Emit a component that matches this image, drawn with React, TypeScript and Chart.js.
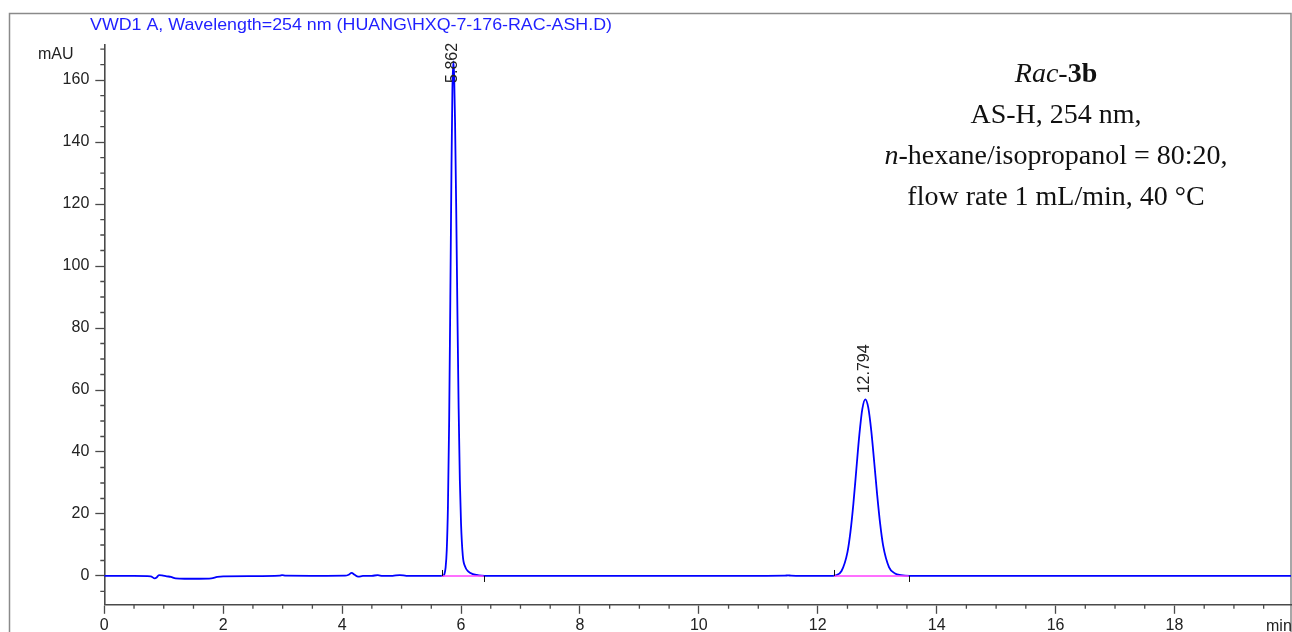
import React, { useEffect, useRef } from "react";
import { Chart, registerables } from "chart.js";

Chart.register(...registerables);

// ---- Data ----
const retentionTimes: number[] = [
  0, 0.5, 0.78, 0.85, 0.88, 0.92, 0.97, 1.05, 1.12, 1.2, 1.35, 1.6, 1.8, 1.9, 2.0,
  2.5, 2.95, 2.99, 3.05, 3.6, 4.05, 4.11, 4.16, 4.21, 4.27, 4.35, 4.5, 4.6, 4.68,
  4.85, 4.97, 5.08, 5.3, 5.6, 5.7,
  5.72, 5.74, 5.76, 5.78, 5.8, 5.82, 5.84, 5.855, 5.87, 5.885, 5.9, 5.92, 5.94,
  5.96, 5.98, 6.0, 6.03, 6.07, 6.12, 6.2, 6.3, 6.4,
  7.0, 8.5, 10.0, 11.0, 11.45, 11.5, 11.55, 12.0, 12.2,
  12.3, 12.4, 12.5, 12.55, 12.6, 12.65, 12.7, 12.75, 12.8, 12.85, 12.9, 12.95,
  13.0, 13.05, 13.1, 13.2, 13.3, 13.4, 13.55, 14, 16, 18, 19.96,
];
const absorbance: number[] = [
  0, 0, -0.1, -0.8, -0.5, 0.3, 0.2, -0.1, -0.3, -0.8, -0.9, -0.9, -0.8, -0.3, -0.1,
  -0.05, 0.1, 0.25, 0.1, 0.05, 0.1, 0.4, 1.0, 0.4, -0.2, 0, 0.05, 0.25, 0,
  0.05, 0.3, 0.05, 0, 0, 0.1,
  0.6, 2.6, 8.4, 22.5, 49.5, 89.5, 133, 157, 166, 161, 146, 117, 84,
  54, 31, 17, 6.5, 3, 1.5, 0.6, 0.2, 0.05,
  0, 0, 0.05, 0.05, 0.1, 0.2, 0.1, 0, 0,
  0.2, 1.6, 7.7, 14.2, 23.4, 34.6, 45.6, 53.9, 57, 54.3, 46.9, 36.7,
  26.1, 16.8, 9.8, 2.8, 0.8, 0.3, 0.05, 0, 0, 0, 0,
];

const peakTimes: number[] = [5.862, 12.794];
const peakLabels: string[] = ["5.862", "12.794"];
const baselineStarts: number[] = [5.675, 12.27];
const baselineEnds: number[] = [6.38, 13.53];

const xTicks: number[] = [0, 2, 4, 6, 8, 10, 12, 14, 16, 18];
const yTicks: number[] = [0, 20, 40, 60, 80, 100, 120, 140, 160];
const xMinorStep = 0.5;
const yMinorStep = 5;
const X_MIN = 0;
const X_MAX = 19.96;
const Y_MIN = -9.3;
const Y_MAX = 171.5;

const titleText = "VWD1 A, Wavelength=254 nm (HUANG\\HXQ-7-176-RAC-ASH.D)";
const yUnit = "mAU";
const xUnit = "min";

type Part = { t: string; s?: string };
const noteLines: Part[][] = [
  [{ t: "Rac", s: "italic" }, { t: "-" }, { t: "3b", s: "bold" }],
  [{ t: "AS-H, 254 nm," }],
  [{ t: "n", s: "italic" }, { t: "-hexane/isopropanol = 80:20," }],
  [{ t: "flow rate 1 mL/min, 40 \u00B0C" }],
];

const SANS = '"Liberation Sans", Arial, sans-serif';
const SERIF = '"Liberation Serif", "Times New Roman", serif';
const AXIS_COLOR = "#4a4a4a";
const TRACE = "#0000ff";
const PINK = "#ff40ff";

const hplcPlugin = {
  id: "hplc",
  beforeDraw(chart: any) {
    const ctx = chart.ctx;
    ctx.save();
    ctx.fillStyle = "#ffffff";
    ctx.fillRect(0, 0, chart.width, chart.height);
    ctx.strokeStyle = "#8a8a8a";
    ctx.lineWidth = 1.5;
    ctx.strokeRect(9.5, 13.5, chart.width - 1 - 9.5, chart.height + 20);
    ctx.restore();
  },
  afterDraw(chart: any) {
    const { ctx, chartArea } = chart;
    const x = chart.scales.x;
    const y = chart.scales.y;
    ctx.save();
    // minor ticks
    ctx.strokeStyle = AXIS_COLOR;
    ctx.lineWidth = 1.3;
    ctx.beginPath();
    for (let v = Math.ceil(X_MIN / xMinorStep) * xMinorStep; v <= X_MAX + 1e-9; v += xMinorStep) {
      if (Math.abs(v / 2 - Math.round(v / 2)) < 1e-6) continue;
      const px = x.getPixelForValue(v);
      ctx.moveTo(px, chartArea.bottom);
      ctx.lineTo(px, chartArea.bottom + 4);
    }
    for (let v = Math.ceil(Y_MIN / yMinorStep) * yMinorStep; v <= Y_MAX + 1e-9; v += yMinorStep) {
      if (Math.abs(v / 20 - Math.round(v / 20)) < 1e-6 && v >= 0 && v <= 160) continue;
      const py = y.getPixelForValue(v);
      ctx.moveTo(chartArea.left, py);
      ctx.lineTo(chartArea.left - 4, py);
    }
    ctx.stroke();

    // integration marks
    ctx.strokeStyle = "#111111";
    ctx.lineWidth = 1;
    ctx.beginPath();
    const y0 = y.getPixelForValue(0);
    baselineStarts.forEach((t) => {
      const px = Math.round(x.getPixelForValue(t)) + 0.5;
      ctx.moveTo(px, y0);
      ctx.lineTo(px, y0 - 6);
    });
    baselineEnds.forEach((t) => {
      const px = Math.round(x.getPixelForValue(t)) + 0.5;
      ctx.moveTo(px, y0);
      ctx.lineTo(px, y0 + 6);
    });
    ctx.stroke();

    // peak labels
    ctx.font = `16px ${SANS}`;
    ctx.fillStyle = "#222222";
    peakTimes.forEach((t, i) => {
      let apex = 0;
      retentionTimes.forEach((rt, j) => {
        if (Math.abs(rt - t) < 0.15 && absorbance[j] > apex) apex = absorbance[j];
      });
      const apexY = y.getPixelForValue(apex);
      const w = ctx.measureText(peakLabels[i]).width;
      let bottom = apexY - 6;
      if (bottom - w < chartArea.top - 1.5) bottom = chartArea.top - 1.5 + w;
      ctx.save();
      ctx.translate(x.getPixelForValue(t), bottom);
      ctx.rotate(-Math.PI / 2);
      ctx.textAlign = "left";
      ctx.textBaseline = "middle";
      ctx.fillText(peakLabels[i], 0, 0);
      ctx.restore();
    });

    // title
    ctx.save();
    ctx.font = `16px ${SANS}`;
    ctx.fillStyle = "#1f1fff";
    ctx.textBaseline = "alphabetic";
    const tw = ctx.measureText(titleText).width;
    ctx.translate(90, 29.5);
    ctx.scale(522 / tw, 1);
    ctx.fillText(titleText, 0, 0);
    ctx.restore();

    // units
    ctx.font = `16px ${SANS}`;
    ctx.fillStyle = "#222222";
    ctx.textBaseline = "alphabetic";
    ctx.textAlign = "left";
    ctx.fillText(yUnit, 38, 58.5);
    ctx.fillText(xUnit, chartArea.right - 25, 630.5);

    // annotation
    const fontFor = (s?: string) =>
      s === "italic" ? `italic 28px ${SERIF}` : s === "bold" ? `bold 28px ${SERIF}` : `28px ${SERIF}`;
    const baselines = [82, 123, 164, 205];
    ctx.fillStyle = "#111111";
    noteLines.forEach((parts, li) => {
      let total = 0;
      parts.forEach((p) => {
        ctx.font = fontFor(p.s);
        total += ctx.measureText(p.t).width;
      });
      let cx = 1056 - total / 2;
      parts.forEach((p) => {
        ctx.font = fontFor(p.s);
        ctx.fillText(p.t, cx, baselines[li]);
        cx += ctx.measureText(p.t).width;
      });
    });
    ctx.restore();
  },
};

export default function App() {
  const ref = useRef<HTMLCanvasElement | null>(null);
  useEffect(() => {
    if (!ref.current) return;
    const traceData = retentionTimes.map((t, i) => ({ x: t, y: absorbance[i] }));
    const pinkSets = baselineStarts.map((s, i) => ({
      label: `baseline ${i + 1}`,
      data: [
        { x: s, y: 0 },
        { x: baselineEnds[i], y: 0 },
      ],
      borderColor: PINK,
      borderWidth: 1.6,
      pointRadius: 0,
      order: 0,
    }));
    const chart = new Chart(ref.current, {
      type: "line",
      data: {
        datasets: [
          ...pinkSets,
          {
            label: "VWD1 A",
            data: traceData,
            borderColor: TRACE,
            borderWidth: 1.8,
            pointRadius: 0,
            cubicInterpolationMode: "monotone",
            order: 1,
          },
        ],
      } as any,
      options: {
        responsive: false,
        animation: false,
        devicePixelRatio: 1,
        layout: { padding: { left: 0, top: 44.4, right: 1, bottom: 0 } },
        plugins: {
          legend: { display: false },
          tooltip: { enabled: false },
          title: { display: false },
        },
        scales: {
          x: {
            type: "linear",
            min: X_MIN,
            max: X_MAX,
            afterFit: (s: any) => {
              s.height = 27.2;
            },
            afterBuildTicks: (s: any) => {
              s.ticks = xTicks.map((v) => ({ value: v }));
            },
            grid: {
              drawOnChartArea: false,
              drawTicks: true,
              tickLength: 9,
              tickColor: AXIS_COLOR,
              tickWidth: 1.3,
            },
            border: { display: true, color: AXIS_COLOR, width: 1.6 },
            ticks: {
              padding: 2,
              autoSkip: false,
              maxRotation: 0,
              color: "#222222",
              font: { family: SANS, size: 16 },
            },
          },
          y: {
            type: "linear",
            min: Y_MIN,
            max: Y_MAX,
            afterFit: (s: any) => {
              s.width = 104.3;
            },
            afterBuildTicks: (s: any) => {
              s.ticks = yTicks.map((v) => ({ value: v }));
            },
            grid: {
              drawOnChartArea: false,
              drawTicks: true,
              tickLength: 9,
              tickColor: AXIS_COLOR,
              tickWidth: 1.3,
            },
            border: { display: true, color: AXIS_COLOR, width: 1.6 },
            ticks: {
              padding: 6,
              color: "#222222",
              font: { family: SANS, size: 16 },
            },
          },
        },
      } as any,
      plugins: [hplcPlugin],
    });
    return () => chart.destroy();
  }, []);
  return (
    <div style={{ position: "fixed", left: 0, top: 0, width: 1292, height: 632, background: "#fff" }}>
      <canvas ref={ref} width={1292} height={632} style={{ width: 1292, height: 632, display: "block" }} />
    </div>
  );
}
